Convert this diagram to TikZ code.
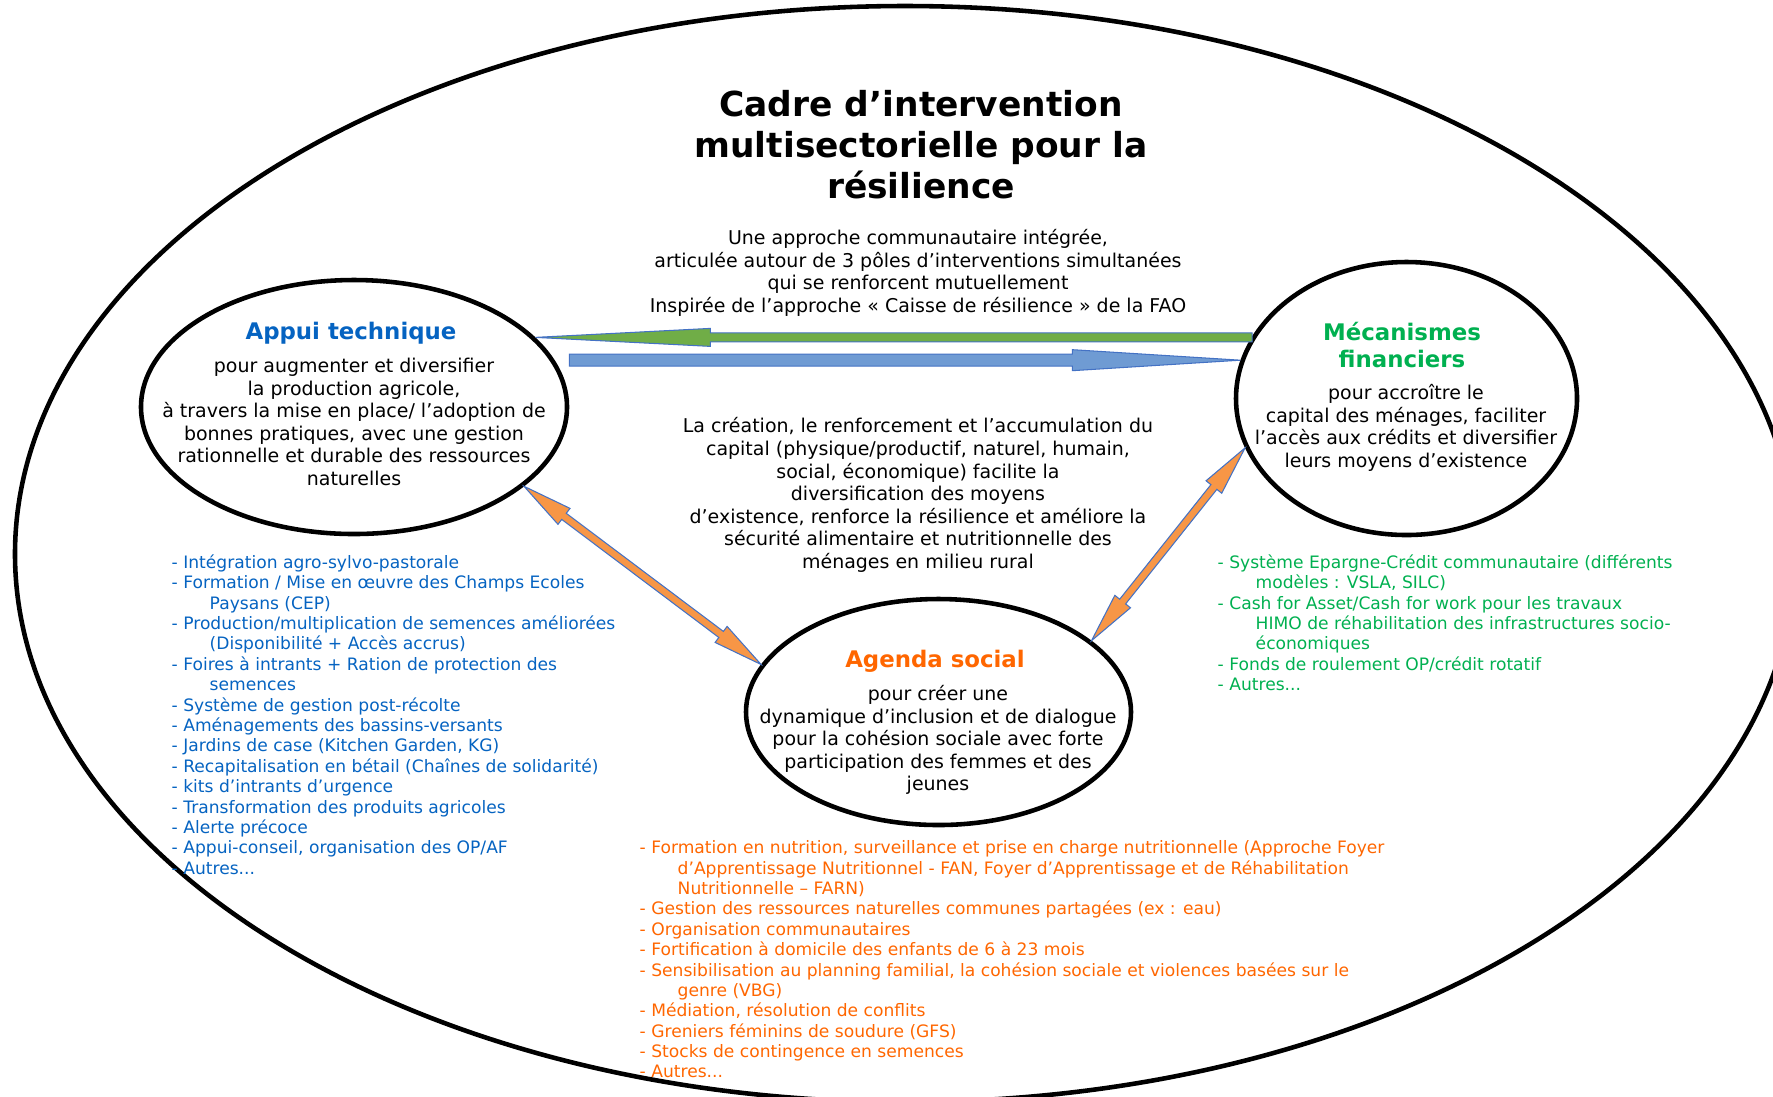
\documentclass[tikz,border=0pt]{standalone}
\usepackage{fontspec}
\setmainfont{DejaVu Sans}
\usetikzlibrary{shapes.geometric,calc}

\definecolor{appuiblue}{HTML}{0563C1}
\definecolor{financegreen}{HTML}{00B050}
\definecolor{socialorange}{HTML}{FF6600}
\definecolor{arrowgreen}{HTML}{70AD47}
\definecolor{arrowblue}{HTML}{6F9BD3}
\definecolor{arroworange}{HTML}{F79646}
\definecolor{arrowline}{HTML}{4472C4}

\tikzset{
    pole/.style={ellipse, draw, line width=1.3pt, inner sep=0pt},
    polehead/.style={font=\bfseries\fontsize{6.5}{7.7}\selectfont, align=center, inner sep=0pt},
    poletext/.style={font=\fontsize{5.4}{6.43}\selectfont, align=center, inner sep=0pt},
    itemlist/.style={font=\fontsize{4.87}{5.8}\selectfont, align=left, anchor=north west, inner sep=0pt},
    blockarrow/.style={draw=arrowline, line width=0.3pt, line join=miter},
}

% single headed block arrow: style, tail, tip, half shaft, half head, head length
\newcommand{\singlearrow}[6]{%
    \coordinate (ah) at ($(#3)!#6!(#2)$);
    \draw[blockarrow,#1] ($(#2)!#4!90:(#3)$) -- ($(ah)!#4!90:(#3)$) -- ($(ah)!#5!90:(#3)$) -- (#3)
        -- ($(ah)!#5!-90:(#3)$) -- ($(ah)!#4!-90:(#3)$) -- ($(#2)!#4!-90:(#3)$) -- cycle;
}

% double headed block arrow: style, end a, end b, half shaft, half head, head length
\newcommand{\doublearrow}[6]{%
    \coordinate (ha) at ($(#2)!#6!(#3)$);
    \coordinate (hb) at ($(#3)!#6!(#2)$);
    \draw[blockarrow,#1] (#2) -- ($(ha)!#5!90:(#3)$) -- ($(ha)!#4!90:(#3)$) -- ($(hb)!#4!90:(#3)$)
        -- ($(hb)!#5!90:(#3)$) -- (#3) -- ($(hb)!#5!-90:(#3)$) -- ($(hb)!#4!-90:(#3)$)
        -- ($(ha)!#4!-90:(#3)$) -- ($(ha)!#5!-90:(#3)$) -- cycle;
}

\begin{document}
\begin{tikzpicture}

    \useasboundingbox (0,0) rectangle (17.73,-10.96);

    % outer frame
    \draw[line width=1.3pt] (9.05,-5.54) ellipse (8.90 and 5.48);

    % title and approach
    \node[font=\bfseries\fontsize{9.8}{11.7}\selectfont, align=center] (title) at (9.21,-1.445)
        {Cadre d’intervention\\multisectorielle pour la\\résilience};
    \node[poletext] (approach) at (9.18,-2.73)
        {Une approche communautaire intégrée,\\articulée autour de 3 pôles d’interventions simultanées\\qui se renforcent mutuellement\\Inspirée de l’approche « Caisse de résilience » de la FAO};

    % the three poles
    \node[pole, minimum width=4.26cm, minimum height=2.54cm] (appui) at (3.54,-4.07) {};
    \node[pole, minimum width=3.41cm, minimum height=2.73cm] (financ) at (14.065,-3.985) {};
    \node[pole, minimum width=3.85cm, minimum height=2.26cm] (social) at (9.385,-7.12) {};

    \node[polehead, text=appuiblue] (appuihead) at (3.51,-3.33) {Appui technique};
    \node[poletext] (appuitext) at (3.54,-4.22)
        {pour augmenter et diversifier\\la production agricole,\\à travers la mise en place/ l’adoption de\\bonnes pratiques, avec une gestion\\rationnelle et durable des ressources\\naturelles};

    \node[polehead, text=financegreen] (financhead) at (14.02,-3.45) {Mécanismes\\financiers};
    \node[poletext] (financtext) at (14.06,-4.28)
        {pour accroître le\\capital des ménages, faciliter\\l’accès aux crédits et diversifier\\leurs moyens d’existence};

    \node[polehead, text=socialorange] (socialhead) at (9.35,-6.61) {Agenda social};
    \node[poletext] (socialtext) at (9.38,-7.40)
        {pour créer une\\dynamique d’inclusion et de dialogue\\pour la cohésion sociale avec forte\\participation des femmes et des\\jeunes};

    % capital in the middle
    \node[poletext] (capital) at (9.18,-4.95)
        {La création, le renforcement et l’accumulation du\\capital (physique/productif, naturel, humain,\\social, économique) facilite la\\diversification des moyens\\d’existence, renforce la résilience et améliore la\\sécurité alimentaire et nutritionnelle des\\ménages en milieu rural};

    % arrows between the poles
    \coordinate (greentip) at (appui.21);
    \coordinate (greentail) at (financ.158 |- greentip);
    \coordinate (bluetip) at (financ.167);
    \coordinate (bluetail) at (appui.east |- bluetip);
    \singlearrow{fill=arrowgreen}{greentail}{greentip}{0.45mm}{0.9mm}{17.5mm}
    \singlearrow{fill=arrowblue}{bluetail}{bluetip}{0.6mm}{1.05mm}{16.8mm}
    \doublearrow{fill=arroworange}{appui.-25}{social.165}{0.38mm}{1mm}{5mm}
    \doublearrow{fill=arroworange}{financ.-163}{social.25}{0.38mm}{1mm}{5mm}

    % activities of each pole
    \node[itemlist, text=appuiblue] (appuilist) at (1.71,-5.54)
        {- Intégration agro-sylvo-pastorale\\
         - Formation / Mise en œuvre des Champs Ecoles\\
         \hspace*{3.8mm}Paysans (CEP)\\
         - Production/multiplication de semences améliorées\\
         \hspace*{3.8mm}(Disponibilité + Accès accrus)\\
         - Foires à intrants + Ration de protection des\\
         \hspace*{3.8mm}semences\\
         - Système de gestion post-récolte\\
         - Aménagements des bassins-versants\\
         - Jardins de case (Kitchen Garden, KG)\\
         - Recapitalisation en bétail (Chaînes de solidarité)\\
         - kits d’intrants d’urgence\\
         - Transformation des produits agricoles\\
         - Alerte précoce\\
         - Appui-conseil, organisation des OP/AF\\
         - Autres...};

    \node[itemlist, text=financegreen] (financlist) at (12.17,-5.54)
        {- Système Epargne-Crédit communautaire (différents\\
         \hspace*{3.8mm}modèles : VSLA, SILC)\\
         - Cash for Asset/Cash for work pour les travaux\\
         \hspace*{3.8mm}HIMO de réhabilitation des infrastructures socio-\\
         \hspace*{3.8mm}économiques\\
         - Fonds de roulement OP/crédit rotatif\\
         - Autres...};

    \node[itemlist, text=socialorange] (sociallist) at (6.39,-8.40)
        {- Formation en nutrition, surveillance et prise en charge nutritionnelle (Approche Foyer\\
         \hspace*{3.8mm}d’Apprentissage Nutritionnel - FAN, Foyer d’Apprentissage et de Réhabilitation\\
         \hspace*{3.8mm}Nutritionnelle – FARN)\\
         - Gestion des ressources naturelles communes partagées (ex : eau)\\
         - Organisation communautaires\\
         - Fortification à domicile des enfants de 6 à 23 mois\\
         - Sensibilisation au planning familial, la cohésion sociale et violences basées sur le\\
         \hspace*{3.8mm}genre (VBG)\\
         - Médiation, résolution de conflits\\
         - Greniers féminins de soudure (GFS)\\
         - Stocks de contingence en semences\\
         - Autres...};

\end{tikzpicture}
\end{document}
